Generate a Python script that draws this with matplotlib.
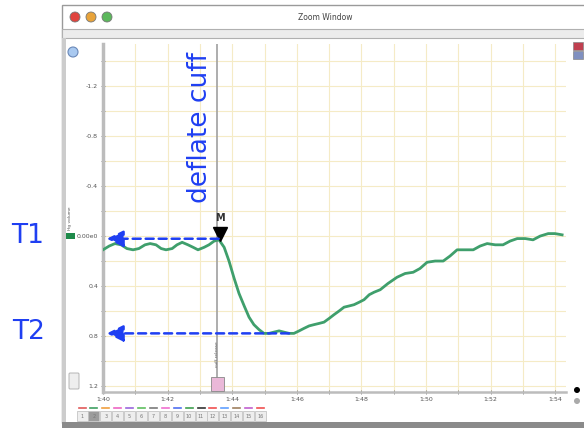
import matplotlib
matplotlib.use('Agg')
import matplotlib.pyplot as plt
from matplotlib.patches import Rectangle, Circle, FancyBboxPatch
import numpy as np

# trace: time in seconds, cuff volume (axis is inverted)
times = [100.00, 100.19, 100.37, 100.56, 100.74, 100.93, 101.11, 101.30, 101.46, 101.64,
         101.80, 101.95, 102.14, 102.29, 102.45, 102.63, 102.79, 102.94, 103.13, 103.28,
         103.44, 103.59, 103.75, 103.90, 104.06, 104.21, 104.37, 104.52, 104.67, 104.83,
         104.98, 105.14, 105.29, 105.45, 105.60, 105.76, 105.91, 106.07, 106.22, 106.38,
         106.53, 106.69, 106.84, 107.00, 107.15, 107.31, 107.46, 107.62, 107.77, 107.93,
         108.08, 108.24, 108.39, 108.58, 108.82, 109.10, 109.35, 109.60, 109.81, 110.03,
         110.28, 110.53, 110.74, 110.96, 111.21, 111.46, 111.67, 111.89, 112.14, 112.38,
         112.60, 112.82, 113.07, 113.31, 113.53, 113.78, 113.99, 114.21]
volume = [0.11, 0.08, 0.06, 0.07, 0.10, 0.11, 0.10, 0.07, 0.06, 0.07,
          0.10, 0.11, 0.10, 0.07, 0.05, 0.07, 0.09, 0.11, 0.09, 0.07,
          0.04, 0.03, 0.09, 0.20, 0.34, 0.46, 0.56, 0.65, 0.71, 0.75,
          0.78, 0.78, 0.77, 0.76, 0.77, 0.78, 0.78, 0.76, 0.74, 0.72,
          0.71, 0.70, 0.69, 0.66, 0.63, 0.60, 0.57, 0.56, 0.55, 0.53,
          0.51, 0.47, 0.45, 0.43, 0.38, 0.33, 0.30, 0.29, 0.26, 0.21,
          0.20, 0.20, 0.16, 0.11, 0.11, 0.11, 0.08, 0.06, 0.07, 0.07,
          0.04, 0.02, 0.02, 0.03, 0.00, -0.02, -0.02, -0.01]

marker_time = 103.62
event_time = 103.53
y_ticks = [-1.2, -0.8, -0.4, 0.0, 0.4, 0.8, 1.2]
y_tick_labels = ["-1.2", "-0.8", "-0.4", "0.00e0", "0.4", "0.8", "1.2"]
x_ticks = [100, 102, 104, 106, 108, 110, 112, 114]
x_tick_labels = ["1:40", "1:42", "1:44", "1:46", "1:48", "1:50", "1:52", "1:54"]
channel_colors = ['#e05a5a', '#3f9f62', '#f0a040', '#ee66c4', '#9a66dd', '#5fbf5f',
                  '#7a7a7a', '#f070d0', '#5070f0', '#3f9f4f', '#333333', '#f05050',
                  '#60a0ff', '#a08060', '#c060d0', '#f05050']

blue = '#1f3ff2'

fig = plt.figure(figsize=(5.84, 4.28), dpi=100)

# window chrome, drawn in pixel coordinates
bg = fig.add_axes([0, 0, 1, 1], zorder=0)
bg.set_xlim(0, 584)
bg.set_ylim(428, 0)
bg.axis('off')
bg.add_patch(Rectangle((62, 5), 530, 418, fc='white', ec='#9a9a9a', lw=1))
grad = np.linspace(0.93, 0.82, 24).reshape(-1, 1)
bg.imshow(grad, cmap='gray', vmin=0, vmax=1, extent=(62, 592, 29, 5), aspect='auto')
bg.add_patch(Rectangle((62, 29), 530, 9, fc='#ececec', ec='#b0b0b0', lw=0.8))
bg.add_patch(Rectangle((62, 38), 4, 385, fc='#cccccc', lw=0))
bg.add_patch(Rectangle((62, 422), 530, 6, fc='#8a8a8a', lw=0))
for cx, c in zip([75, 91, 107], ['#e0443e', '#e8a33a', '#5cb85c']):
    bg.add_patch(Circle((cx, 17), 5, fc=c, ec='#777777', lw=0.6))
bg.text(325, 17, "Zoom Window", fontsize=5.5, color='#444444', ha='center', va='center')

# side icons
bg.add_patch(Circle((73, 52), 5, fc='#a9c9f0', ec='#6a88b8', lw=0.8))
bg.add_patch(Rectangle((66, 233), 9, 6, fc='#1e8a4a', lw=0))
bg.text(70, 218, "Hg volume", fontsize=3.2, rotation=90, ha='center', va='center', color='#555555')
bg.add_patch(FancyBboxPatch((70, 374), 8, 14, boxstyle='round,pad=1', fc='#eeeeee', ec='#aaaaaa', lw=0.6))
bg.add_patch(Rectangle((573, 42), 10, 8, fc='#c04050', ec='#888888', lw=0.5))
bg.add_patch(Rectangle((573, 51), 10, 8, fc='#8090c0', ec='#888888', lw=0.5))
bg.add_patch(Circle((577, 390), 3, fc='black', lw=0))
bg.add_patch(Circle((577, 401), 3, fc='#aaaaaa', lw=0))

# channel strip
for i, c in enumerate(channel_colors):
    cx = 82 + 11.9 * i
    bg.plot([cx - 3.5, cx + 3.5], [408, 408], color=c, lw=1.2)
    fc = '#9c9c9c' if i == 1 else '#eeeeee'
    bg.add_patch(Rectangle((cx - 5.5, 411), 11, 10, fc=fc, ec='#c4c4c4', lw=0.6))
    bg.text(cx, 416, str(i + 1), fontsize=3.5, color='#777777', ha='center', va='center')

# main plot
ax = fig.add_axes([103 / 584, 36 / 428, 463 / 584, 348 / 428], zorder=2)
ax.set_facecolor('white')
ax.set_xlim(100, 114.33)
ax.set_ylim(1.25, -1.54)
ax.set_xticks(x_ticks)
ax.set_xticklabels(x_tick_labels)
ax.set_yticks(y_ticks)
ax.set_yticklabels(y_tick_labels)
ax.set_xticks(np.arange(100, 115, 1), minor=True)
ax.set_yticks(np.arange(-1.4, 1.3, 0.2), minor=True)
ax.grid(True, which='both', color='#f5ebc6', lw=0.8)
ax.set_axisbelow(True)
ax.tick_params(which='both', direction='inout', length=3, width=0.6, color='#777777',
               labelsize=4.5, labelcolor='#555555', pad=2)
for s in ['top', 'right']:
    ax.spines[s].set_visible(False)
ax.spines['left'].set_color('#bcbcbc')
ax.spines['left'].set_linewidth(2.5)
ax.spines['bottom'].set_color('#bcbcbc')
ax.spines['bottom'].set_linewidth(1.8)

ax.plot(times, volume, color='#3f9f6c', lw=2.0, zorder=3, solid_joinstyle='round')

# event line and marker
ax.axvline(event_time, color='#a0a0a0', lw=1.2, zorder=2)
ax.add_patch(Rectangle((event_time - 0.2, 1.13), 0.42, 0.11, fc='#eab8d8', ec='#888888', lw=0.6,
                       zorder=4, clip_on=False))
ax.text(event_time, 0.95, "cuff release", fontsize=3.2, rotation=90, ha='center', va='center',
        color='#666666', zorder=4)

t1 = np.interp(marker_time, times, volume)
t2 = max(volume)
t2_time = times[int(np.argmax(volume)) + 5]
ax.plot(marker_time, t1 - 0.055, marker='v', ms=10.5, color='black', zorder=6)
ax.annotate("M", xy=(marker_time, t1), xytext=(0, 16.5), textcoords='offset points',
            ha='center', va='center', fontsize=7, fontweight='bold', color='#333333', zorder=6)

for level, tail in [(t1 - 0.02, event_time + 0.05), (t2, t2_time)]:
    ax.annotate('', xy=(100.12, level), xytext=(tail, level),
                arrowprops=dict(arrowstyle='-|>,head_length=1.0,head_width=0.5', color=blue,
                                lw=1.8, linestyle=(0, (3.2, 2)), shrinkA=0, shrinkB=0),
                zorder=7, annotation_clip=False)

ax.text(event_time - 0.52, -0.87, "deflate cuff", rotation=90, fontsize=19, color=blue,
        ha='center', va='center', zorder=7)

fig.text(28 / 584, 1 - 236 / 428, "T1", fontsize=19, color=blue, ha='center', va='center')
fig.text(29 / 584, 1 - 332 / 428, "T2", fontsize=19, color=blue, ha='center', va='center')

fig.savefig('out.png', dpi=100)
